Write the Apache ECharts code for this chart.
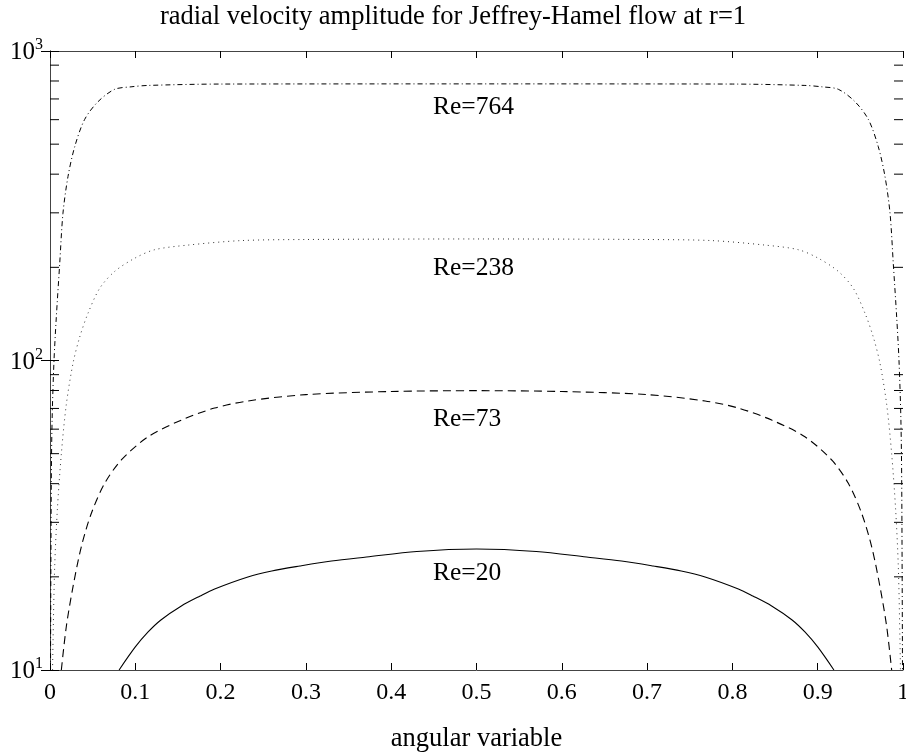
<!DOCTYPE html>
<html>
<head>
<meta charset="utf-8">
<script src="https://cdn.jsdelivr.net/npm/echarts@6/dist/echarts.min.js"></script>
<style>html,body{margin:0;padding:0;background:#fff}#c{width:906px;height:756px}</style>
</head>
<body>
<div id="c"></div>
<script>
const titleText = 'radial velocity amplitude for Jeffrey-Hamel flow at r=1';
const xName = 'angular variable';
const xTickValues = [0, 0.1, 0.2, 0.3, 0.4, 0.5, 0.6, 0.7, 0.8, 0.9, 1];
const yMinorTicks = [20, 30, 40, 50, 60, 70, 80, 90, 200, 300, 400, 500, 600, 700, 800, 900];

const re20X = [0.081,0.10,0.115,0.13,0.154,0.176,0.193,0.232,0.26,0.293,0.33,0.371,0.43,0.5,0.57,0.629,0.67,0.707,0.74,0.768,0.807,0.824,0.846,0.87,0.885,0.90,0.919];
const re20Y = [10,11.87,13.27,14.51,16.10,17.34,18.27,19.98,20.89,21.68,22.50,23.18,24.15,24.60,24.15,23.18,22.50,21.68,20.89,19.98,18.27,17.34,16.10,14.51,13.27,11.87,10];

const re73X = [0.0133,0.0191,0.027,0.0367,0.0485,0.0641,0.0836,0.115,0.154,0.193,0.232,0.3,0.4,0.5,0.6,0.7,0.768,0.807,0.846,0.885,0.9164,0.9359,0.9515,0.9633,0.973,0.9809,0.9867];
const re73Y = [10,13.8,18.6,25,32.1,40.1,47.7,56.7,64.2,70.2,74.0,77.6,79.4,79.9,79.4,77.6,74.0,70.2,64.2,56.7,47.7,40.1,32.1,25,18.6,13.8,10];

const re238X = [0.003,0.0035,0.0055,0.0086,0.0133,0.0191,0.027,0.0348,0.0445,0.0582,0.0758,0.0993,0.1227,0.1618,0.224,0.3,0.5,0.7,0.776,0.8382,0.8773,0.9007,0.9242,0.9418,0.9555,0.9652,0.973,0.9809,0.9867,0.9914,0.9945,0.9965,0.997];
const re238Y = [10,12.2,21.6,32.9,50,72,98,119,142,171,194,214,228,236,244,246,247,246,244,236,228,214,194,171,142,119,98,72,50,32.9,21.6,12.2,10];

const re764X = [0.0006,0.0015,0.0025,0.0047,0.0074,0.0114,0.0152,0.0211,0.029,0.0406,0.0563,0.0758,0.095,0.115,0.2,0.5,0.8,0.885,0.905,0.9242,0.9437,0.9594,0.971,0.9789,0.9848,0.9886,0.9926,0.9953,0.9975,0.9985,0.9994];
const re764Y = [10,40,65,100,138,206,299,393,491,601,686,752,766,774,782,783,782,774,766,752,686,601,491,393,299,206,138,100,65,40,10];

const curveLabels = ['Re=764', 'Re=238', 'Re=73', 'Re=20'];
const labelX = [0.449, 0.449, 0.449, 0.449];
const labelY = [659, 199, 64.7, 20.6];

const FONT = 'Liberation Serif';
function pairs(xs, ys) { return xs.map((x, i) => [x, ys[i]]); }

const chart = echarts.init(document.getElementById('c'));
const axisLineStyle = { color: '#444', width: 1 };
chart.setOption({
  animation: false,
  backgroundColor: '#fff',
  title: {
    text: titleText, left: 'center', top: -1,
    textStyle: { fontFamily: FONT, fontSize: 26.5, fontWeight: 'normal', color: '#000' }
  },
  grid: { left: 50, right: 3, top: 51, bottom: 86, containLabel: false, outerBoundsMode: 'none' },
  xAxis: [{
    type: 'value', min: 0, max: 1, interval: 0.1,
    name: xName, nameLocation: 'middle', nameGap: 56,
    nameTextStyle: { fontFamily: FONT, fontSize: 26.5, color: '#000' },
    axisLine: { show: true, lineStyle: axisLineStyle },
    axisTick: { show: true, inside: true, length: 7, lineStyle: { color: '#000' } },
    axisLabel: { margin: 11, fontFamily: FONT, fontSize: 24, color: '#000',
      formatter: v => String(Math.round(v * 10) / 10) },
    splitLine: { show: false }
  }, {
    type: 'value', min: 0, max: 1, interval: 0.1, position: 'top',
    axisLine: { show: true, lineStyle: axisLineStyle },
    axisTick: { show: true, inside: true, length: 7, lineStyle: { color: '#000' } },
    axisLabel: { show: false }, splitLine: { show: false }
  }],
  yAxis: [{
    type: 'log', logBase: 10, min: 10, max: 1000,
    axisLine: { show: true, lineStyle: axisLineStyle },
    axisTick: { show: true, inside: true, length: 9, lineStyle: { color: '#000' } },
    axisLabel: {
      margin: 7, color: '#000',
      formatter: v => '{b|10}{s|' + Math.round(Math.log10(v)) + '}',
      rich: {
        b: { fontFamily: FONT, fontSize: 25, color: '#000', verticalAlign: 'bottom', lineHeight: 28 },
        s: { fontFamily: FONT, fontSize: 16, color: '#000', verticalAlign: 'top', lineHeight: 28, padding: [0, 0, 9, 0] }
      }
    },
    splitLine: { show: false }
  }, {
    type: 'log', logBase: 10, min: 10, max: 1000, position: 'right',
    axisLine: { show: true, lineStyle: axisLineStyle },
    axisTick: { show: true, inside: true, length: 9, lineStyle: { color: '#000' } },
    axisLabel: { show: false }, splitLine: { show: false }
  }],
  series: [
    { type: 'line', name: 'Re=764', data: pairs(re764X, re764Y), smooth: 0.3, showSymbol: false,
      lineStyle: { color: '#000', width: 1, type: [5, 3, 1, 3] } },
    { type: 'line', name: 'Re=238', data: pairs(re238X, re238Y), smooth: 0.3, showSymbol: false,
      lineStyle: { color: '#333', width: 1, type: [1, 4] } },
    { type: 'line', name: 'Re=73', data: pairs(re73X, re73Y), smooth: 0.3, showSymbol: false,
      lineStyle: { color: '#000', width: 1.1, type: [8, 5] } },
    { type: 'line', name: 'Re=20', data: pairs(re20X, re20Y), smooth: 0.3, showSymbol: false,
      lineStyle: { color: '#000', width: 1.1, type: 'solid' } },
    { type: 'scatter', symbolSize: 0, silent: true, itemStyle: { opacity: 1 },
      data: curveLabels.map((t, i) => [labelX[i], labelY[i], t]),
      label: { show: true, position: 'right', distance: 0, formatter: p => p.data[2],
        fontFamily: FONT, fontSize: 25.5, color: '#000', opacity: 1 } },
    { type: 'custom', silent: true, clip: false,
      data: yMinorTicks.map(v => [0, v]),
      renderItem: (params, api) => {
        const v = api.value(1);
        const pl = api.coord([0, v]);
        const pr = api.coord([1, v]);
        return { type: 'group', children: [
          { type: 'line', shape: { x1: pl[0], y1: pl[1], x2: pl[0] + 9, y2: pl[1] }, style: { stroke: '#000', lineWidth: 1 } },
          { type: 'line', shape: { x1: pr[0], y1: pr[1], x2: pr[0] - 9, y2: pr[1] }, style: { stroke: '#000', lineWidth: 1 } }
        ] };
      } }
  ]
});
</script>
</body>
</html>
